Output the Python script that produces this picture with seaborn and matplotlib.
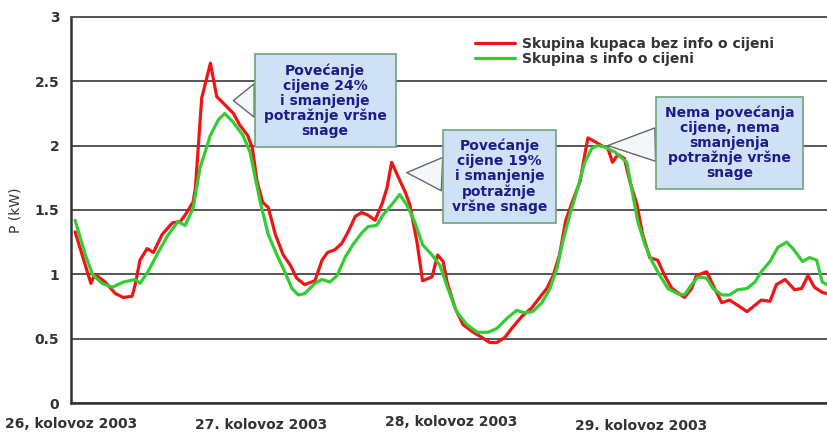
import seaborn as sns
import matplotlib.pyplot as plt
import pandas as pd

# Hourly load profile, 26-29 August 2003 (hours since start of 26th)
red_hours = [0.5, 2.5, 3.0, 4.3, 5.6, 6.6, 7.7, 8.1, 8.7, 9.6,
             10.4, 11.5, 12.8, 13.8, 14.4, 15.4, 15.7, 16.5, 17.6, 18.4,
             19.7, 20.5, 21.3, 22.3, 22.9, 23.5, 24.2, 24.9, 25.8, 26.8,
             27.7, 28.5, 29.5, 30.8, 31.7, 32.4, 33.3, 34.2, 35.0, 35.9,
             36.7, 37.5, 38.4, 39.3, 39.9, 40.5, 41.3, 42.2, 42.8, 43.7,
             44.4, 45.6, 46.3, 47.0, 47.5, 48.5, 49.5, 50.8, 51.9, 52.9,
             53.8, 54.8, 55.8, 56.9, 58.2, 59.2, 60.1, 60.9, 61.7, 62.5,
             63.3, 64.3, 64.9, 65.3, 66.2, 67.0, 67.8, 68.4, 69.1, 69.9,
             70.6, 71.5, 72.2, 73.1, 74.1, 75.0, 75.9, 76.6, 77.5, 78.4,
             79.0, 80.3, 81.3, 82.2, 83.2, 84.2, 85.4, 86.4, 87.2, 88.3,
             89.1, 90.2, 91.4, 92.3, 93.1, 93.9, 94.9, 95.5]
red_kw = [1.33, 0.93, 1.00, 0.94, 0.85, 0.82, 0.83, 0.92, 1.11, 1.20,
          1.17, 1.31, 1.40, 1.41, 1.46, 1.56, 1.67, 2.37, 2.64, 2.38,
          2.30, 2.25, 2.16, 2.08, 1.98, 1.72, 1.56, 1.52, 1.31, 1.15,
          1.07, 0.97, 0.92, 0.95, 1.11, 1.17, 1.19, 1.24, 1.33, 1.45,
          1.48, 1.46, 1.42, 1.55, 1.67, 1.87, 1.76, 1.64, 1.54, 1.25,
          0.95, 0.98, 1.15, 1.10, 0.94, 0.74, 0.61, 0.55, 0.51, 0.47,
          0.47, 0.51, 0.59, 0.67, 0.74, 0.82, 0.89, 0.99, 1.15, 1.42,
          1.56, 1.72, 1.93, 2.06, 2.03, 2.00, 1.98, 1.87, 1.93, 1.90,
          1.72, 1.54, 1.31, 1.13, 1.11, 0.99, 0.89, 0.86, 0.82, 0.89,
          0.99, 1.02, 0.89, 0.78, 0.80, 0.76, 0.71, 0.76, 0.80, 0.79,
          0.92, 0.96, 0.88, 0.89, 0.99, 0.90, 0.86, 0.85]

green_hours = [0.5, 1.8, 2.7, 3.9, 5.2, 6.6, 8.1, 8.7, 9.7, 11.0,
               12.2, 13.5, 14.4, 15.4, 16.3, 17.6, 18.6, 19.4, 20.5, 21.7,
               22.6, 23.2, 23.9, 24.9, 26.0, 27.0, 27.9, 28.7, 29.5, 30.8,
               31.7, 32.7, 33.6, 34.6, 35.6, 36.7, 37.5, 38.6, 39.4, 40.5,
               41.5, 42.4, 43.4, 44.4, 45.6, 46.6, 47.6, 48.7, 50.0, 51.3,
               52.7, 53.8, 55.1, 56.3, 57.3, 58.3, 59.5, 60.5, 61.4, 62.1,
               63.0, 64.0, 64.9, 65.8, 66.5, 67.4, 68.7, 70.2, 70.8, 71.6,
               72.5, 73.4, 74.4, 75.4, 76.6, 77.5, 78.4, 79.2, 80.3, 81.1,
               82.2, 83.2, 84.2, 85.4, 86.4, 87.2, 88.3, 89.3, 90.4, 91.2,
               92.4, 93.3, 94.2, 94.9, 95.5]
green_kw = [1.42, 1.15, 1.00, 0.93, 0.90, 0.94, 0.96, 0.93, 1.02, 1.17,
            1.30, 1.41, 1.38, 1.51, 1.83, 2.08, 2.20, 2.25, 2.18, 2.08,
            1.95, 1.77, 1.56, 1.31, 1.15, 1.02, 0.89, 0.84, 0.85, 0.93,
            0.96, 0.94, 0.99, 1.13, 1.23, 1.32, 1.37, 1.38, 1.46, 1.54,
            1.62, 1.54, 1.41, 1.23, 1.15, 1.07, 0.89, 0.71, 0.61, 0.55,
            0.55, 0.58, 0.66, 0.72, 0.70, 0.71, 0.78, 0.89, 1.05, 1.25,
            1.46, 1.67, 1.87, 1.98, 2.00, 1.99, 1.95, 1.87, 1.67, 1.41,
            1.23, 1.10, 0.99, 0.89, 0.85, 0.84, 0.92, 0.98, 0.97, 0.89,
            0.84, 0.84, 0.88, 0.89, 0.94, 1.02, 1.10, 1.21, 1.25, 1.20,
            1.10, 1.13, 1.11, 0.94, 0.92]

series_names = ["Skupina kupaca bez info o cijeni", "Skupina s info o cijeni"]
series_colors = ["#f01414", "#33cc33"]

day_ticks = [0, 24, 48, 72]
day_labels = ["26, kolovoz 2003", "27. kolovoz 2003", "28, kolovoz 2003", "29. kolovoz 2003"]
day_label_pads = [6.8, 7.6, 4.8, 8.2]

# callouts: text, tip (hour, kW), box centre (hour, kW)
callout_texts = ["Povećanje\ncijene 24%\ni smanjenje\npotražnje vršne\nsnage",
                 "Povećanje\ncijene 19%\ni smanjenje\npotražnje\nvršne snage",
                 "Nema povećanja\ncijene, nema\nsmanjenja\npotražnje vršne\nsnage"]
callout_tips = [(20.5, 2.35), (42.4, 1.79), (67.8, 2.0)]
callout_boxes = [(32.1, 2.35), (54.1, 1.76), (83.2, 2.02)]

df = pd.concat([
    pd.DataFrame({"hour": red_hours, "kW": red_kw, "grupa": series_names[0]}),
    pd.DataFrame({"hour": green_hours, "kW": green_kw, "grupa": series_names[1]}),
])

sns.set_style("white")
plt.rcParams["font.family"] = ["DejaVu Sans"]

fig = plt.figure(figsize=(8.27, 4.32), dpi=100)
ax = fig.add_axes([0.086, 0.067, 0.914, 0.894])

sns.lineplot(data=df, x="hour", y="kW", hue="grupa", palette=series_colors,
             linewidth=2.3, errorbar=None, legend=False, ax=ax)

ax.set_xlim(0, 95.5)
ax.set_ylim(0, 3)
ax.set_yticks([0, 0.5, 1, 1.5, 2, 2.5, 3])
ax.set_yticklabels(["0", "0.5", "1", "1.5", "2", "2.5", "3"])
ax.yaxis.grid(True, color="#555555", linewidth=1.4)
ax.xaxis.grid(False)
ax.set_axisbelow(True)

ax.set_xticks(day_ticks)
ax.set_xticklabels(day_labels)
for tick, pad in zip(ax.xaxis.get_major_ticks(), day_label_pads):
    tick.set_pad(pad)

ax.tick_params(axis="both", which="major", length=3.5, width=1.2, color="#333333",
               labelsize=10, labelcolor="#333333", direction="out")
ax.tick_params(axis="y", pad=5)
for lab in ax.get_xticklabels() + ax.get_yticklabels():
    lab.set_fontweight("bold")

for side in ["left", "bottom"]:
    ax.spines[side].set_color("#333333")
    ax.spines[side].set_linewidth(1.8)
ax.spines["top"].set_color("#555555")
ax.spines["top"].set_linewidth(1.4)
ax.spines["right"].set_visible(False)

ax.set_xlabel("")
ax.set_ylabel("P (kW)", fontsize=10, color="#333333", labelpad=9)

leg = ax.legend(handles=ax.lines[:2], labels=series_names, loc="center left",
                bbox_to_anchor=(0.534, 0.911), frameon=False, borderpad=0,
                borderaxespad=0, labelspacing=0.05, handlelength=2.9,
                handletextpad=0.5, prop={"size": 10, "weight": "bold"})
for t in leg.get_texts():
    t.set_color("#333333")

for text, tip, box in zip(callout_texts, callout_tips, callout_boxes):
    ax.annotate(text, xy=tip, xytext=box, ha="center", va="center",
                multialignment="center", fontsize=10, fontweight="bold",
                color="#1c1c8a", linespacing=1.08,
                bbox=dict(boxstyle="square,pad=0.65", fc="#cfe2f5", ec="#6fa37a", lw=1.2),
                arrowprops=dict(arrowstyle="wedge,tail_width=2.4,shrink_factor=0.5",
                                fc="#f4f7fa", ec="#666666", lw=1.0, shrinkA=0, shrinkB=0),
                zorder=5)

plt.savefig("out.png", dpi=100)
plt.close()
